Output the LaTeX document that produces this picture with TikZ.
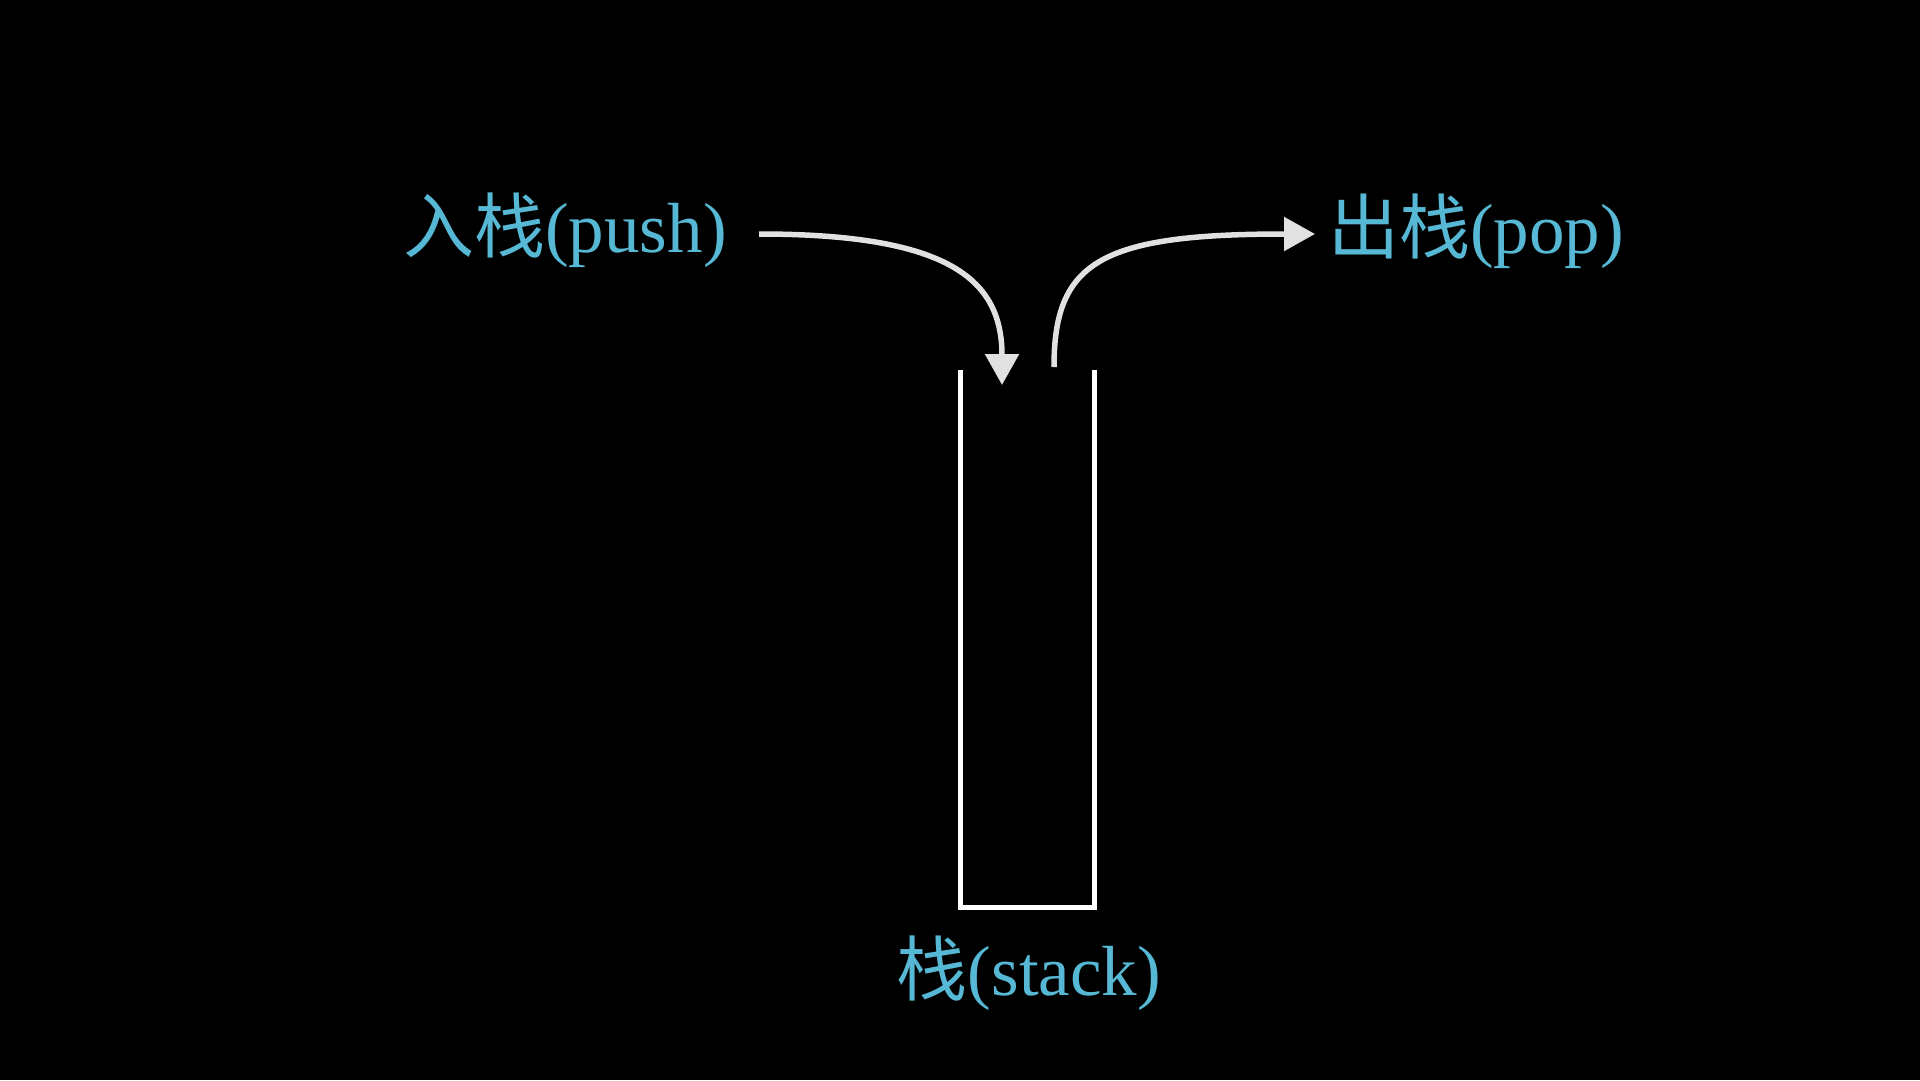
\documentclass[tikz,border=0pt]{standalone}
\usepackage{fontspec}
\setmainfont{Liberation Serif}
\newfontfamily\cjk{Noto Sans CJK SC}
\usetikzlibrary{arrows.meta}
\definecolor{labelcol}{RGB}{86,184,212}
\definecolor{arrowcol}{RGB}{225,225,225}
\tikzset{
  lbl/.style={text=labelcol, font=\fontsize{71}{78}\selectfont, anchor=base, inner sep=0pt},
  flow/.style={draw=arrowcol, line width=5.5pt, -{Triangle[length=31pt,width=33pt]}},
  wall/.style={draw=white, line width=5pt}
}
\begin{document}
\begin{tikzpicture}[x=1pt,y=-1pt]
\fill[black] (0,0) rectangle (1920,1080);
\useasboundingbox (0,0) rectangle (1920,1080);
% labels
\node[lbl] (push) at (565,252) {{\cjk 入栈}(push)};
\node[lbl] (pop) at (1476,253) {{\cjk 出栈}(pop)};
\node[lbl] (stacklbl) at (1029,995) {{\cjk 栈}(stack)};
% stack
\coordinate (tl) at (960,370);
\coordinate (bl) at (960,907);
\coordinate (br) at (1094,907);
\coordinate (tr) at (1094,370);
\draw[wall] (tl) -- (bl) -- (br) -- (tr);
% arrows
\coordinate (pushstart) at (759,234);
\coordinate (pushend) at (1002,385);
\coordinate (popstart) at (1054,367);
\coordinate (popend) at (1315,234);
\draw[flow] (pushstart) .. controls (950,234) and (1002,280) .. (pushend);
\draw[flow] (popstart) .. controls (1054,262) and (1100,234) .. (popend);
\end{tikzpicture}
\end{document}
